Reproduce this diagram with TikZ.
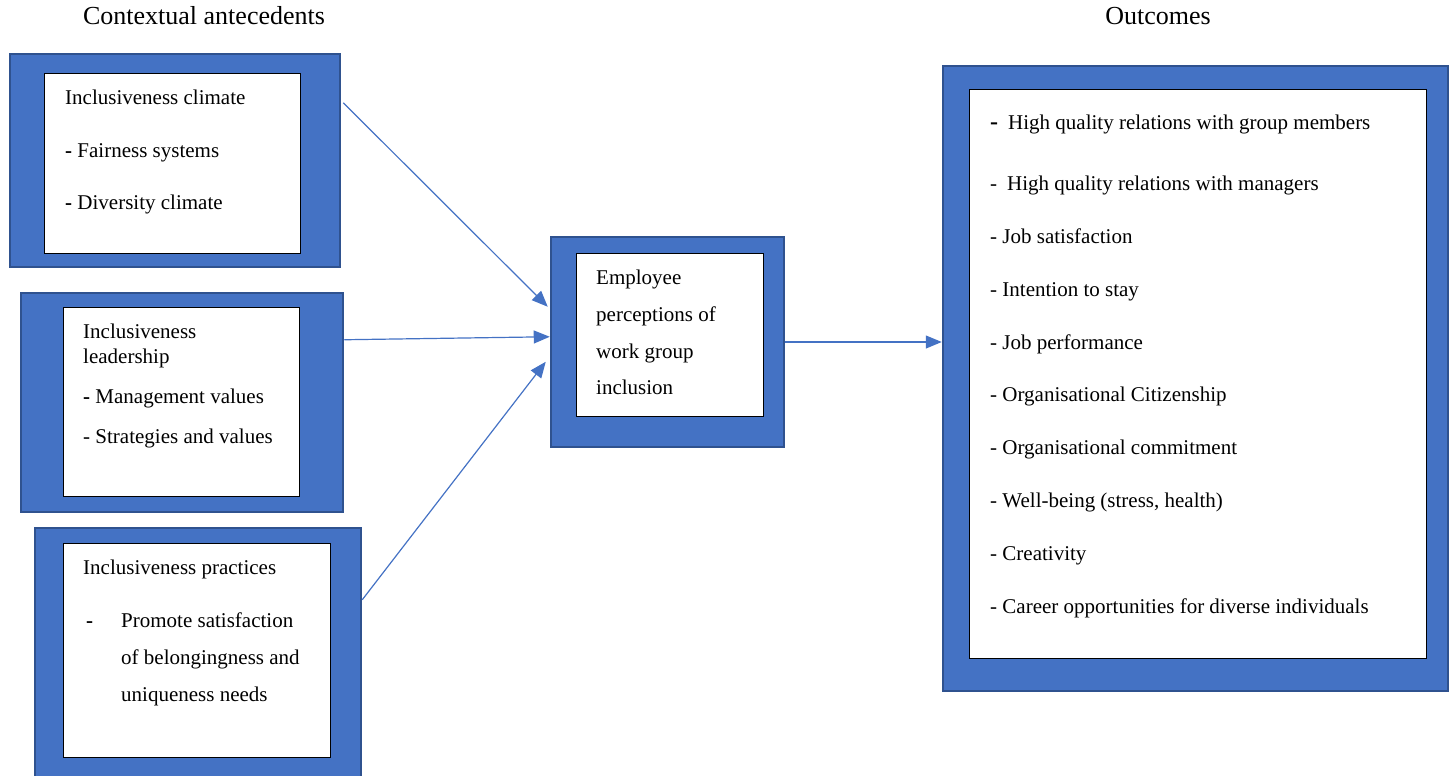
\documentclass[tikz,border=0pt]{standalone}
\usepackage{fontspec}
\setmainfont{Liberation Serif}
\usetikzlibrary{positioning, arrows.meta, fit, calc}
\definecolor{boxblue}{HTML}{4472C4}
\definecolor{boxedge}{HTML}{2F528F}

\begin{document}
\begin{tikzpicture}[
  x=1pt, y=-1pt,
  >={Triangle[length=16pt, width=13pt]},
  every node/.style={font=\fontsize{21}{25}\selectfont}
]
\tikzset{
  outer/.style={draw=boxedge, line width=2.5pt, fill=boxblue, inner sep=0pt},
  inner/.style={draw=black, line width=0.9pt, fill=white, inner sep=0pt},
  txt/.style  ={anchor=base west, inner sep=0pt},
  head/.style ={anchor=base, inner sep=0pt, font=\fontsize{26}{30}\selectfont},
  arr/.style  ={->, draw=boxblue, line width=1.2pt}
}
\useasboundingbox (0,0) rectangle (1453,776);

%% ----- Headings -----
\node[head] (hl) at (204,25) {Contextual antecedents};
\node[head] (hr) at (1158,25) {Outcomes};

%% ----- Antecedent boxes -----
\node[outer, fit={(10,54)(340,267)}] (c1) {};
\node[inner, fit={(44,73)(300,253)}] (c1i) {};
\node[txt] (c1a) at (65,104) {Inclusiveness climate};
\node[txt] (c1b) at (65,157) {\textbf{-} Fairness systems};
\node[txt] (c1c) at (65,209) {\textbf{-} Diversity climate};

\node[outer, fit={(21,293)(343,512)}] (c2) {};
\node[inner, fit={(63,307)(299,496)}] (c2i) {};
\node[txt] (c2a) at (83,338) {Inclusiveness};
\node[txt] (c2b) at (83,363) {leadership};
\node[txt] (c2c) at (83,403) {\textbf{-} Management values};
\node[txt] (c2d) at (83,443) {- Strategies and values};

\node[outer, fit={(35,528)(361,790)}] (c3) {};
\node[inner, fit={(63,543)(330,757)}] (c3i) {};
\node[txt] (c3a) at (83,574) {Inclusiveness practices};
\node[txt] (c3b) at (86,627) {\textbf{-}};
\node[txt] (c3c) at (121,627) {Promote satisfaction};
\node[txt] (c3d) at (121,664) {of belongingness and};
\node[txt] (c3e) at (121,701) {uniqueness needs};

%% ----- Mediator -----
\node[outer, fit={(551,237)(784,447)}] (p) {};
\node[inner, fit={(576,253)(763,416)}] (pi) {};
\foreach \y/\t [count=\i] in {284/Employee, 321/perceptions of,
                              358/work group, 394/inclusion}
  \node[txt] (p\i) at (596,\y) {\t};

%% ----- Outcomes -----
\node[outer, fit={(943,66)(1448,691)}] (o) {};
\node[inner, fit={(969,89)(1426,658)}] (oi) {};
\foreach \y/\t [count=\i] in {
    129/{\textbf{\fontsize{24}{25}\selectfont -}\hspace{10pt}High quality relations with group members},
    190/{-\hspace{10pt}High quality relations with managers},
    243/{- Job satisfaction},
    296/{- Intention to stay},
    349/{- Job performance},
    401/{- Organisational Citizenship},
    454/{- Organisational commitment},
    507/{- Well-being (stress, health)},
    560/{- Creativity},
    613/{- Career opportunities for diverse individuals}}
  \node[txt] (o\i) at (990,\y) {\t};

%% ----- Connectors -----
\draw[arr] ($(c1.north east)+(2,50)$) -- ($(p.north west)+(-2,71)$);
\draw[arr] ($(c2.north east)+(0,48)$) -- ($(p.north west)+(0,101)$);
\draw[arr] ($(c3.north east)+(0,73)$) -- ($(p.north west)+(-4,126)$);
\draw[arr] (p.east) -- (o.west |- p.east);

\end{tikzpicture}
\end{document}
